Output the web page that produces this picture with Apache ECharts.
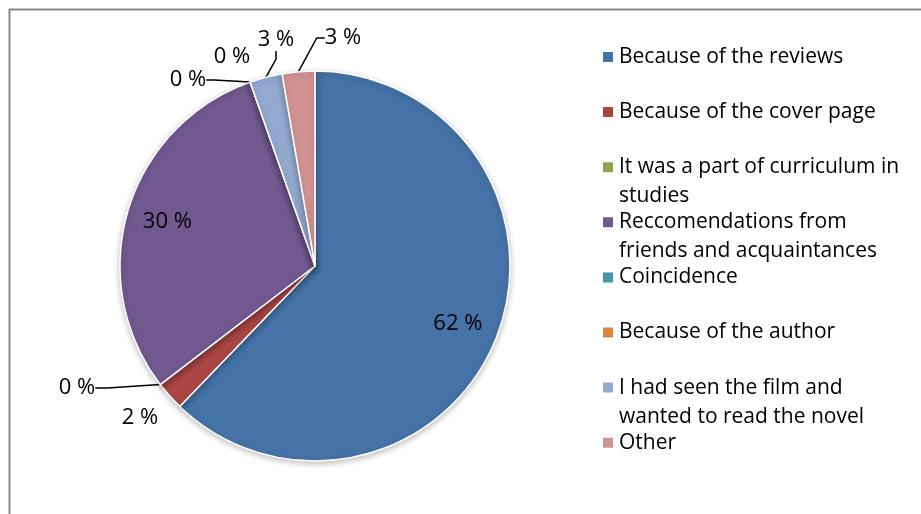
<!DOCTYPE html>
<html>
<head>
<meta charset="utf-8">
<script src="https://cdn.jsdelivr.net/npm/echarts@6/dist/echarts.min.js"></script>
<style>html,body{margin:0;padding:0;background:#fff;}#c{width:921px;height:514px;}</style>
</head>
<body>
<div id="c"></div>
<script>
const categories = ['Because of the reviews', 'Because of the cover page', 'It was a part of curriculum in studies', 'Reccomendations from friends and acquaintances', 'Coincidence', 'Because of the author', 'I had seen the film and wanted to read the novel', 'Other'];
const legendLines = [['Because of the reviews'], ['Because of the cover page'], ['It was a part of curriculum in', 'studies'], ['Reccomendations from', 'friends and acquaintances'], ['Coincidence'], ['Because of the author'], ['I had seen the film and', 'wanted to read the novel'], ['Other']];
const values = [62.2, 2.4, 0, 30.0, 0, 0, 2.7, 2.7];
const colors = ['#4572A7', '#AA4643', '#89A54E', '#71588F', '#4198AF', '#DB843D', '#93A9CF', '#D19392'];

const FONT = 'Open Sans';
const fmt = p => Math.round(p.percent) + ' %';

// label placement for the small slices (style only)
const outsideCfg = {
  1: {line: false, len2: 0, pos: [140, 418]},
  2: {line: true, len2: 12, pos: [77, 388]},
  4: {line: true, len2: 8, pos: [188, 80]},
  5: {line: false, len2: 0, pos: [232, 57]},
  6: {line: true, len2: 8, pos: [276, 40]},
  7: {line: true, len2: 8, pos: [343, 38]}
};

const mainData = categories.map((n, i) => {
  const d = {name: n, value: values[i], itemStyle: {color: colors[i]}};
  const c = outsideCfg[i];
  if (c) {
    d.label = {show: true, position: 'outside'};
    d.labelLine = {show: c.line, length: 10, length2: c.len2};
  } else {
    d.label = {show: false};
    d.labelLine = {show: false};
  }
  return d;
});
const helperData = categories.map((n, i) => ({
  name: n, value: values[i],
  label: {show: i === 0 || i === 3}
}));

const legends = legendLines.map((lines, i) => {
  const twoLine = lines.length > 1;
  const center = 57 + i * 55.1;
  const text = twoLine ? ' \n' + lines.join('\n') : lines[0];
  return {
    orient: 'vertical', left: 601, top: twoLine ? center - 43.5 : center - 14.5,
    padding: 0, itemWidth: 12, itemHeight: 12, icon: 'rect',
    selectedMode: false,
    data: [categories[i]],
    formatter: () => text,
    textStyle: {fontFamily: FONT, fontSize: 21, color: '#000', lineHeight: 29}
  };
});

const chart = echarts.init(document.getElementById('c'));
chart.setOption({
  animation: false,
  graphic: [{type: 'rect', shape: {x: 9.5, y: 9.5, width: 1200, height: 1200},
    style: {fill: 'none', stroke: '#868686', lineWidth: 2}, silent: true}],
  legend: legends,
  series: [{
    type: 'pie', center: [315, 266], radius: 195, startAngle: 90, clockwise: true,
    avoidLabelOverlap: false, silent: true,
    itemStyle: {borderColor: '#fff', borderWidth: 1.5, shadowBlur: 6, shadowColor: 'rgba(0,0,0,0.25)', shadowOffsetY: 2},
    label: {formatter: fmt, fontFamily: FONT, fontSize: 22, color: '#000'},
    labelLine: {lineStyle: {color: '#000', width: 1.5}},
    labelLayout: p => {
      const c = outsideCfg[p.dataIndex];
      return c ? {x: c.pos[0], y: c.pos[1], align: 'center', verticalAlign: 'middle', hideOverlap: false} : {};
    },
    data: mainData
  }, {
    type: 'pie', center: [315, 266], radius: [120, 182], startAngle: 90, clockwise: true,
    silent: true, avoidLabelOverlap: false,
    itemStyle: {color: 'rgba(0,0,0,0)'},
    label: {position: 'inside', formatter: fmt, fontFamily: FONT, fontSize: 22, color: '#000'},
    labelLine: {show: false},
    data: helperData
  }]
});
</script>
</body>
</html>
